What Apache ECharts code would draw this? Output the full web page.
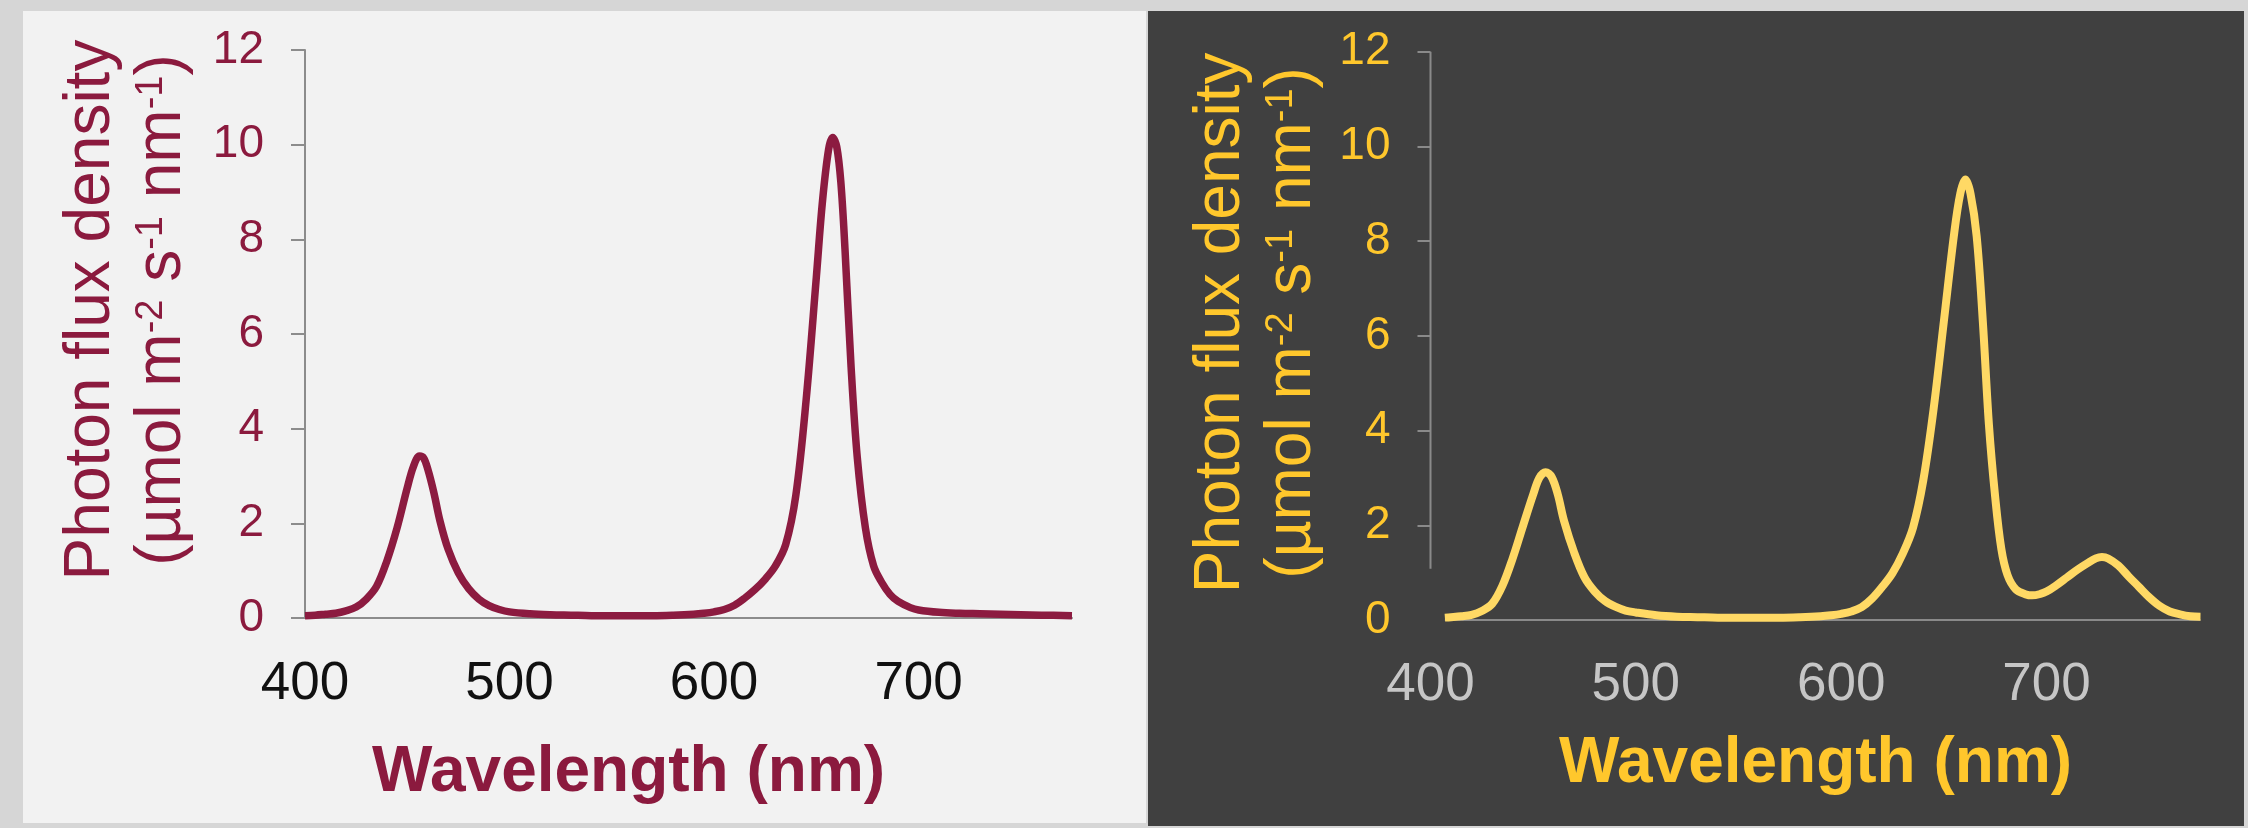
<!DOCTYPE html>
<html><head><meta charset="utf-8">
<script src="https://cdn.jsdelivr.net/npm/echarts@6/dist/echarts.min.js"></script>
<style>html,body{margin:0;padding:0;background:#d6d6d6}#c{width:2248px;height:828px}</style>
</head><body><div id="c"></div><script>
// ---- data ----
const wlLeft  = [400,405,410,415,420,425,430,435,440,445,450,453,456,458,460,463,466,470,475,480,485,490,495,500,510,520,530,540,550,560,570,580,590,595,600,605,610,615,620,625,630,635,640,645,650,653,656,658,660,662,664,667,670,674,678,682,686,690,696,700,710,720,730,740,750,760,775];
const pfdLeft = [0.05,0.06,0.08,0.1,0.15,0.23,0.4,0.67,1.2,1.9,2.75,3.2,3.42,3.38,3.15,2.65,2.05,1.45,0.95,0.62,0.4,0.26,0.18,0.13,0.09,0.07,0.06,0.05,0.05,0.05,0.05,0.06,0.08,0.1,0.13,0.18,0.27,0.42,0.6,0.82,1.1,1.55,2.6,4.6,7.2,8.8,9.9,10.15,9.95,9.2,7.8,5.3,3.4,1.9,1.1,0.75,0.5,0.35,0.22,0.17,0.12,0.1,0.09,0.08,0.07,0.06,0.05];
const wlRight  = [407,410,415,420,425,430,435,440,445,450,453,456,459,462,465,470,475,480,485,490,495,500,510,520,530,540,550,560,570,580,590,595,600,605,610,615,620,625,630,635,640,645,650,655,658,660.5,663,666,669,672,675,678,681,685,690,693,697,700,705,710,715,720,724,727,730,735,740,745,750,755,760,765,770,775];
const pfdRight = [0.05,0.06,0.08,0.11,0.19,0.34,0.72,1.3,1.98,2.65,3.0,3.12,3.02,2.65,2.1,1.42,0.9,0.6,0.4,0.28,0.2,0.16,0.1,0.07,0.06,0.05,0.05,0.05,0.05,0.06,0.08,0.1,0.13,0.18,0.27,0.45,0.7,0.99,1.4,1.95,2.95,4.45,6.3,8.15,9.0,9.3,9.0,8.1,6.3,4.1,2.6,1.5,0.95,0.65,0.54,0.52,0.55,0.6,0.74,0.9,1.06,1.2,1.3,1.33,1.3,1.15,0.92,0.7,0.48,0.3,0.18,0.12,0.08,0.07];
const xMin = 400, xMax = 775, xStep = 100;
const yMin = 0, yMax = 12, yStep = 2;
const yTicksRight = [2,4,6,8,10,12];
const rightAxisLineEnd = 1.08;
const xTitle = 'Wavelength (nm)';

const FONT = '"Liberation Sans", Arial, sans-serif';
const MAROON = '#8b1a3e', MAROON_LINE = '#8c1b40';
const GOLD = '#ffc72c', GOLD_LINE = '#ffd965';

function yName(color){
  return {
    fontFamily: FONT, color: color, align: 'center',
    rich: {
      a: {fontFamily: FONT, fontSize: 64, lineHeight: 71, color: color},
      s: {fontFamily: FONT, fontSize: 38, lineHeight: 38, color: color, verticalAlign: 'top', padding: [6,0,0,0]}
    }
  };
}
const yNameText = '{a|Photon flux density}\n{a|(µmol m}{s|-2}{a| s}{s|-1}{a| nm}{s|-1}{a|)}';

const chart = echarts.init(document.getElementById('c'), null, {renderer: 'canvas'});
chart.setOption({
  backgroundColor: '#d6d6d6',
  animation: false,
  graphic: [
    {type: 'rect', z: -100, silent: true, shape: {x: 23, y: 11, width: 1123, height: 812}, style: {fill: '#f2f2f2'}},
    {type: 'rect', z: -100, silent: true, shape: {x: 1148, y: 11, width: 1096, height: 815}, style: {fill: '#404040'}}
  ],
  grid: [
    {left: 305, top: 50, width: 767, height: 568},
    {left: 1430.5, top: 51.7, width: 770, height: 568.3}
  ],
  xAxis: [
    {type: 'value', gridIndex: 0, min: xMin, max: xMax, interval: xStep,
     axisLine: {show: true, lineStyle: {color: '#8c8c8c', width: 2}},
     axisTick: {show: false}, splitLine: {show: false},
     axisLabel: {fontFamily: FONT, fontSize: 53, color: '#111', margin: 40, showMaxLabel: false},
     name: xTitle, nameLocation: 'middle', nameGap: 123,
     nameTextStyle: {fontFamily: FONT, fontSize: 64, fontWeight: 'bold', color: MAROON, padding: [0,120,0,0]}},
    {type: 'value', gridIndex: 1, min: xMin, max: xMax, interval: xStep,
     axisLine: {show: false},
     axisTick: {show: false}, splitLine: {show: false},
     axisLabel: {fontFamily: FONT, fontSize: 53, color: '#c6c6c6', margin: 39, showMaxLabel: false},
     name: xTitle, nameLocation: 'middle', nameGap: 112,
     nameTextStyle: {fontFamily: FONT, fontSize: 64, fontWeight: 'bold', color: GOLD}}
  ],
  yAxis: [
    {type: 'value', gridIndex: 0, min: yMin, max: yMax, interval: yStep,
     axisLine: {show: true, lineStyle: {color: '#8c8c8c', width: 2}},
     axisTick: {show: true, length: 14, lineStyle: {color: '#8c8c8c', width: 2}},
     splitLine: {show: false},
     axisLabel: {fontFamily: FONT, fontSize: 46, color: MAROON, margin: 41, padding: [0,0,7,0]},
     name: yNameText, nameLocation: 'middle', nameGap: 107,
     nameTextStyle: Object.assign(yName(MAROON), {padding: [0,0,0,48]})},
    {type: 'value', gridIndex: 1, min: yMin, max: yMax, interval: yStep,
     axisLine: {show: false},
     axisTick: {show: true, length: 13, customValues: yTicksRight, lineStyle: {color: '#8a8a8a', width: 2}},
     splitLine: {show: false},
     axisLabel: {fontFamily: FONT, fontSize: 46, color: GOLD, margin: 40, padding: [0,0,6,0]},
     name: yNameText, nameLocation: 'middle', nameGap: 103,
     nameTextStyle: Object.assign(yName(GOLD), {padding: [0,0,0,26]})}
  ],
  series: [
    {type: 'line', xAxisIndex: 0, yAxisIndex: 0, z: 3, clip: false,
     data: wlLeft.map((w,i)=>[w, pfdLeft[i]]),
     showSymbol: false, smooth: 0.35,
     lineStyle: {color: MAROON_LINE, width: 7.5, cap: 'butt', join: 'round'}},
    {type: 'line', xAxisIndex: 1, yAxisIndex: 1, z: 1, clip: false, silent: true,
     data: [[wlRight[0], yMin], [wlRight[wlRight.length-1], yMin]],
     showSymbol: false, lineStyle: {color: '#8a8a8a', width: 2}},
    {type: 'line', xAxisIndex: 1, yAxisIndex: 1, z: 1, clip: false, silent: true,
     data: [[xMin, yMax], [xMin, rightAxisLineEnd]],
     showSymbol: false, lineStyle: {color: '#8a8a8a', width: 2}},
    {type: 'line', xAxisIndex: 1, yAxisIndex: 1, z: 3, clip: false,
     data: wlRight.map((w,i)=>[w, pfdRight[i]]),
     showSymbol: false, smooth: 0.35,
     lineStyle: {color: GOLD_LINE, width: 8, cap: 'butt', join: 'round'}}
  ]
});
</script></body></html>
